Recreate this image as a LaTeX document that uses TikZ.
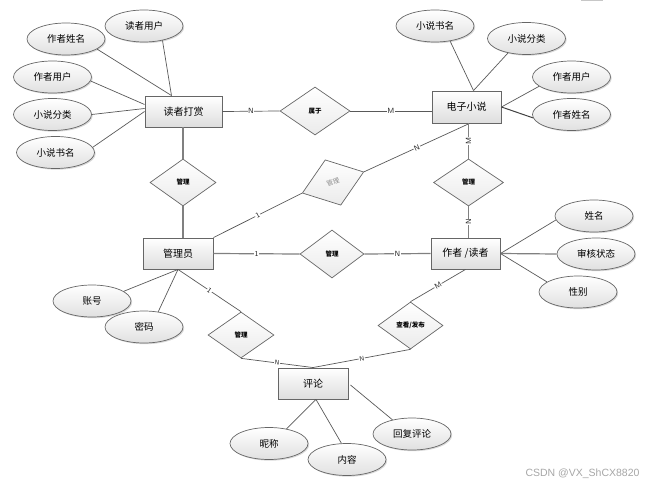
\documentclass[tikz,border=0pt]{standalone}
\usepackage{fontspec}
\newfontfamily\cjk{Noto Sans CJK SC}
\newfontfamily\wmfont{Liberation Sans}
\usetikzlibrary{shapes.geometric,shadows}
\tikzset{
 shd/.style={drop shadow={shadow xshift=1.2pt, shadow yshift=-1.2pt, opacity=0.3}},
 entity/.style={rectangle, draw=black!60, line width=0.9pt, top color=white, bottom color=black!13, minimum width=70pt, minimum height=31pt, inner sep=0pt, font=\cjk\fontsize{10}{12}\selectfont, shd},
 attr/.style={ellipse, draw=black!60, line width=0.7pt, top color=white, bottom color=black!12, minimum width=78pt, minimum height=32pt, inner sep=0pt, font=\cjk\fontsize{9.5}{11}\selectfont, shd},
 rel/.style={diamond, draw=black!60, line width=0.7pt, top color=white, bottom color=black!8, minimum width=66pt, minimum height=47pt, inner sep=0pt, font=\cjk\bfseries\fontsize{6.5}{8}\selectfont},
 conn/.style={draw=black!65, line width=0.7pt},
 connb/.style={draw=black!50, line width=1.2pt},
 lbl/.style={fill=white, inner sep=0.6pt, font=\sffamily\fontsize{7.5}{9}\selectfont, text=black!85},
}
\begin{document}
\begin{tikzpicture}[x=1pt,y=-1pt]
\useasboundingbox (0,0) rectangle (652,489);
\fill[black!22] (581,0) rectangle (603,1.5);

% entities
\node[entity, minimum width=77pt] (rd) at (183.5,111.5) {读者打赏};
\node[entity, minimum width=69pt, minimum height=32pt] (ed) at (466.5,107) {电子小说};
\node[entity] (gl) at (178,253.5) {管理员};
\node[entity, minimum width=69pt] (zd) at (465.5,253.5) {作者 /读者};
\node[entity] (pl) at (313,383.5) {评论};

% relations
\node[rel, minimum width=70pt, minimum height=48pt] (s1) at (315,111) {属于};
\node[rel] (m1) at (183,182.5) {管理};
\node[rel, rotate=19, minimum width=65pt, minimum height=48pt, text=black!45, font=\cjk\fontsize{6.5}{8}\selectfont] (m2) at (333,182.5) {管理};
\node[rel, minimum width=64pt, minimum height=48pt] (m3) at (332,254) {管理};
\node[rel, minimum width=70pt] (m4) at (468.5,182.5) {管理};
\node[rel, minimum height=46pt] (m5) at (241,335) {管理};
\node[rel, minimum width=65pt] (m6) at (410.5,325.5) {查看/发布};

% attributes of 读者打赏
\node[attr] (a1) at (66,39) {作者姓名};
\node[attr] (a2) at (144,26) {读者用户};
\node[attr] (a3) at (52.5,77) {作者用户};
\node[attr] (a4) at (52.5,114.5) {小说分类};
\node[attr] (a5) at (55.5,152.5) {小说书名};
% attributes of 电子小说
\node[attr] (b1) at (435,26) {小说书名};
\node[attr] (b2) at (526.5,38.5) {小说分类};
\node[attr] (b3) at (571.5,77) {作者用户};
\node[attr] (b4) at (571.5,114.5) {作者姓名};
% attributes of 作者/读者
\node[attr] (c1) at (594,216) {姓名};
\node[attr] (c2) at (596,254) {审核状态};
\node[attr] (c3) at (578,292) {性别};
% attributes of 管理员
\node[attr] (d1) at (92,301) {账号};
\node[attr] (d2) at (144,327) {密码};
% attributes of 评论
\node[attr] (e1) at (269,443.5) {昵称};
\node[attr] (e2) at (347,459.5) {内容};
\node[attr] (e3) at (412,434) {回复评论};

% attribute links
\draw[conn] (a1.-18) -- ([xshift=-12pt]rd.north);
\draw[conn] (a2.-38) -- ([xshift=-12pt]rd.north);
\draw[conn] (a3.-6) -- ([yshift=7pt]rd.west);
\draw[conn] (a4.east) -- ([yshift=3pt]rd.west);
\draw[conn] (a5.8) -- (rd.west);
\draw[conn] (b1.-45) -- ([xshift=7pt]ed.north);
\draw[conn] (b2.-142) -- ([xshift=7pt]ed.north);
\draw[conn] (b3.196) -- (ed.east);
\draw[conn, line width=1pt, draw=black!75] (b4.185) -- (ed.east);
\draw[conn] (c1.186) -- (zd.east);
\draw[connb] (c2.west) -- (zd.east);
\draw[conn] (c3.162) -- (zd.east);
\draw[conn] (d1.17) -- (gl.south);
\draw[conn] (d2.47) -- (gl.south);
\draw[conn] (e1.40) -- ([xshift=3pt]pl.south);
\draw[conn] (e2.109) -- ([xshift=3pt]pl.south);
\draw[conn] (e3.144) -- ([xshift=2pt,yshift=-1.5pt]pl.east);

% relationship links
\draw[conn] (rd.east) -- node[lbl]{N} (s1.west);
\draw[conn] (s1.east) -- node[lbl]{M} (s1.east -| ed.west);
\draw[connb] (rd.south -| m1.north) -- (m1.north);
\draw[connb] (m1.south) -- (m1.south |- gl.north);
\draw[conn] (gl.north east) -- node[lbl, sloped]{1} (m2.west);
\draw[conn] (m2.east) -- node[lbl, sloped]{N} ([xshift=3pt]ed.south);
\draw[connb] (gl.east) -- node[lbl]{1} (m3.west);
\draw[connb] (m3.east) -- node[lbl]{N} (zd.west);
\draw[connb] (m4.north |- ed.south) -- node[lbl, rotate=90]{M} (m4.north);
\draw[connb] (m4.south) -- node[lbl, rotate=90]{N} (m4.south |- zd.north);
\draw[conn] (gl.south) -- node[lbl, sloped]{1} (m5.north);
\draw[conn] (m5.south) -- node[lbl, sloped, font=\sffamily\fontsize{6.5}{8}\selectfont]{N} (pl.north);
\draw[conn] (zd.south) -- node[lbl, sloped]{M} (m6.north);
\draw[conn] (m6.south) -- node[lbl, sloped, font=\sffamily\fontsize{6.5}{8}\selectfont]{N} (pl.north);

\node[anchor=east, font=\wmfont\fontsize{10.5}{12}\selectfont, text=black!35] (wm) at (643,474) {CSDN @VX\_ShCX8820};
\end{tikzpicture}
\end{document}
